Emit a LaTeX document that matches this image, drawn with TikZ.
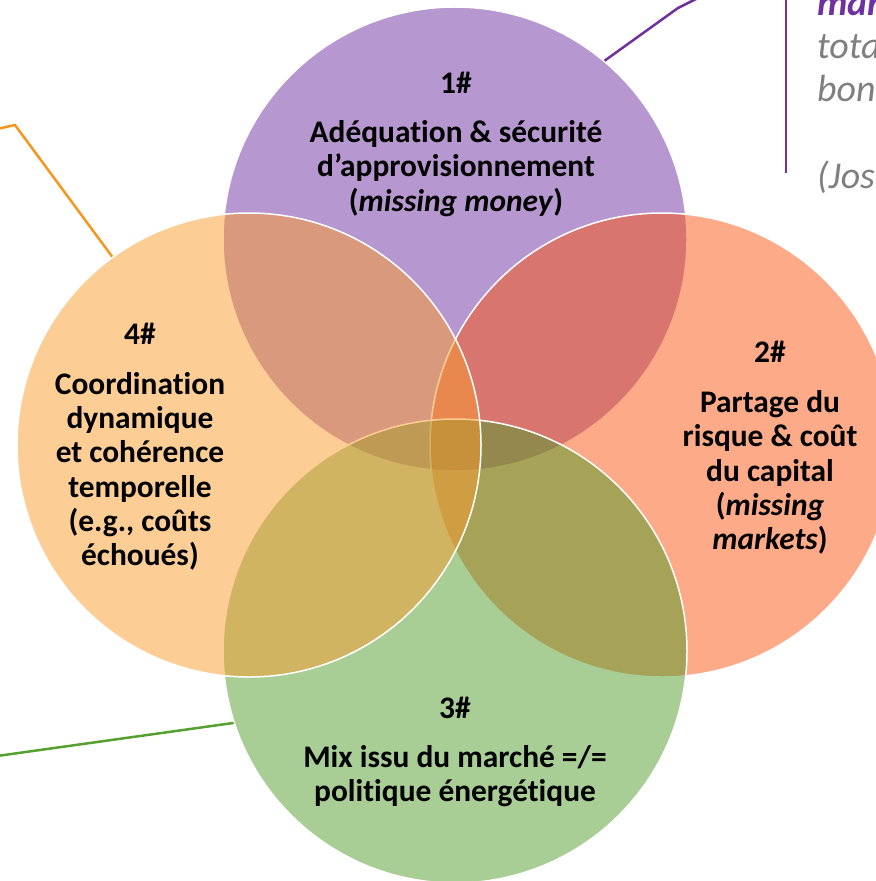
\documentclass[tikz,border=0pt]{standalone}
\usepackage{fontspec}
\setmainfont{Carlito}[Ligatures=NoCommon]
\definecolor{adeqpurple}{HTML}{7030A0}
\definecolor{risquered}{HTML}{F95511}
\definecolor{mixgreen}{HTML}{519D2D}
\definecolor{coordorange}{HTML}{FB9B2D}
\definecolor{orangeline}{HTML}{F7961E}
\definecolor{greenline}{HTML}{56A030}
\definecolor{quotegray}{HTML}{7F7F7F}

\begin{document}
\begin{tikzpicture}[x=1bp, y=-1bp,
    venn/.style = {circle, draw=white, line width=1.5bp, minimum size=464bp, inner sep=0pt, fill opacity=.5},
    theme/.style = {align=center, inner sep=0pt, font=\fontsize{31.5}{34.5}\selectfont\bfseries},
    quote/.style = {anchor=base west, inner sep=0pt, text=quotegray, font=\fontsize{38}{43}\selectfont\itshape},
    callout/.style = {line width=2.5bp},]
    \useasboundingbox (0,0) rectangle (876,881);
    \clip (0,0) rectangle (876,881);
    % the four circles
    \node [venn, fill=adeqpurple] (adequation) at (455,239) {};
    \node [venn, fill=risquered] (risque) at (662,445) {};
    \node [venn, fill=mixgreen] (mix) at (455,651) {};
    \node [venn, fill=coordorange] (coordination) at (249,445) {};
    % texts
    \node [theme] (adequation_txt) at (456,144) {1\#\\[15bp]Adéquation \& sécurité\\d’approvisionnement\\(\textit{missing money})};
    \node [theme] (risque_txt) at (770,448) {2\#\\[15bp]Partage du\\risque \& coût\\du capital\\(\textit{missing}\\\textit{markets})};
    \node [theme] (mix_txt) at (455,752) {3\#\\[15bp]Mix issu du marché =/=\\politique énergétique};
    \node [theme] (coordination_txt) at (140,447) {4\#\\[15bp]Coordination\\dynamique\\et cohérence\\temporelle\\(e.g., coûts\\échoués)};
    % quote on the right
    \node [quote, text=adeqpurple, font=\fontsize{38}{43}\selectfont\bfseries\itshape] (quote_a) at (817,15) {mar};
    \node [quote] (quote_b) at (817,58) {tota};
    \node [quote] (quote_c) at (817,101) {bon};
    \node [quote] (quote_d) at (817,188) {(Jos};
    \draw [callout, adeqpurple] (786,-2) -- (786,173);
    % callouts
    \coordinate (adequation_bend) at (678,8);
    \coordinate (adequation_end) at (702,-4);
    \coordinate (coordination_bend) at (15,125);
    \coordinate (coordination_end) at (-3,129);
    \coordinate (mix_end) at (-3,756);
    \draw [callout, adeqpurple] (adequation.50) -- (adequation_bend) -- (adequation_end);
    \draw [callout, orangeline] (coordination.126) -- (coordination_bend) -- (coordination_end);
    \draw [callout, greenline] (mix.198) -- (mix_end);
\end{tikzpicture}
\end{document}
